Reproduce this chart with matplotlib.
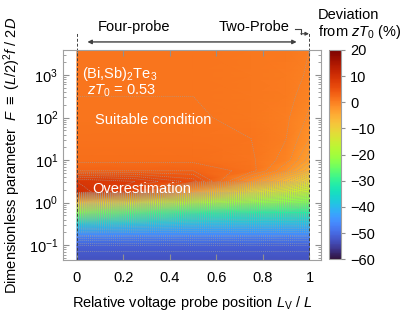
import numpy as np
import matplotlib
matplotlib.use('Agg')
import matplotlib.pyplot as plt
import matplotlib.transforms as mtransforms

plt.rcParams['font.family'] = ['Liberation Sans', 'DejaVu Sans']
plt.rcParams['mathtext.fontset'] = 'custom'
plt.rcParams['mathtext.rm'] = 'Liberation Sans'
plt.rcParams['mathtext.it'] = 'Liberation Sans:italic'
plt.rcParams['font.size'] = 10.5

# relative probe position L_V / L
x_pos = [0.0, 0.25, 0.5, 0.75, 0.9, 1.0]
# log10 of dimensionless parameter F
log_F = [-1.35, -1.0, -0.75, -0.5, -0.25, 0.0, 0.25, 0.5, 0.75,
         1.0, 1.5, 2.0, 2.5, 3.0, 3.6]
# deviation from zT0 (%), one list per probe position (bottom -> top)
dev_x000 = [-53, -51, -46, -38, -24, -8, 10, 9, 3, 1.6, 1.3, 1.1, 1, 1, 1]
dev_x025 = [-53, -51, -46, -39, -28, -13, 6, 8, 3, 1.6, 1.3, 1.1, 1, 1, 1]
dev_x050 = [-53, -51, -46, -40, -31, -19, -4, 5.5, 3, 1.6, 1.3, 1.1, 1, 1, 1]
dev_x075 = [-53, -51, -46, -40, -32, -22, -12, -2, 1.5, 1.2, 1, 0.8, 0.8, 0.8, 0.8]
dev_x090 = [-53, -51, -46, -40, -32, -23, -15, -7, -2, -0.5, 0, 0.2, 0.4, 0.6, 0.7]
dev_x100 = [-53, -51, -46, -40, -32, -24, -17, -11, -6, -3.5, -2, -1.2, -0.6, -0.2, 0]

cbar_ticks = [-60, -50, -40, -30, -20, -10, 0, 10, 20]
x_ticks = [0, 0.2, 0.4, 0.6, 0.8, 1.0]
x_labels = ['0', '0.2', '0.4', '0.6', '0.8', '1']

Z = np.array([dev_x000, dev_x025, dev_x050, dev_x075, dev_x090, dev_x100]).T
X, Y = np.meshgrid(x_pos, 10.0 ** np.array(log_F))

fig = plt.figure(figsize=(4.09, 3.18), dpi=100)
ax = fig.add_axes([0.154, 0.182, 0.631, 0.661])
cax = fig.add_axes([0.804, 0.185, 0.030, 0.658])

pcm = ax.pcolormesh(X, Y, Z, shading='gouraud', cmap='turbo', vmin=-60, vmax=20)
ax.contour(X, Y, Z, levels=np.arange(-60, 21, 1), colors='#a0a0a0',
           linewidths=0.5, linestyles=[(0, (1.5, 1.5))], alpha=0.8)

ax.set_yscale('log')
ax.set_xlim(-0.06, 1.05)
ax.set_ylim(10 ** -1.35, 10 ** 3.59)
ax.set_xticks(x_ticks)
ax.set_xticklabels(x_labels)
ax.tick_params(which='both', direction='in', top=True, right=True,
               color='#909090')
ax.tick_params(which='major', length=4)
ax.tick_params(which='minor', length=2)
ax.tick_params(axis='x', pad=8)
for s in ax.spines.values():
    s.set_color('#a0a0a0')

ax.set_xlabel(r'Relative voltage probe position $L_\mathrm{V}$ / $L$', labelpad=6)
ax.set_ylabel(r'Dimensionless parameter  $F$ $\equiv$ $(L/2)^2f$ / $2D$',
              labelpad=4)

# probe boundaries
trans = mtransforms.blended_transform_factory(ax.transData, ax.transAxes)
for xv in [0, 1]:
    ax.plot([xv, xv], [0, 1.086], transform=trans, color='#404040',
            lw=0.7, ls=(0, (3, 2)), clip_on=False)

ax.annotate('', xy=(0.045, 1.038), xytext=(0.945, 1.038),
            xycoords=trans, textcoords=trans,
            arrowprops=dict(arrowstyle='<|-|>', color='#404040', lw=1.0,
                            mutation_scale=6, shrinkA=0, shrinkB=0))
ax.text(0.245, 1.11, 'Four-probe', transform=trans, ha='center', va='center')
ax.text(0.915, 1.11, 'Two-Probe', transform=trans, ha='right', va='center')
ax.plot([0.94, 0.965, 0.965], [1.10, 1.10, 1.077], transform=trans,
        color='#404040', lw=0.8, clip_on=False)
ax.annotate('', xy=(0.998, 1.077), xytext=(0.963, 1.077),
            xycoords=trans, textcoords=trans,
            arrowprops=dict(arrowstyle='-|>', color='#404040', lw=0.8,
                            mutation_scale=5, shrinkA=0, shrinkB=0))

ax.text(0.02, 1060, r'(Bi,Sb)$_2$Te$_3$', color='white', ha='left', va='center')
ax.text(0.043, 420, r'$zT_0$ = 0.53', color='white', ha='left', va='center')
ax.text(0.078, 89, 'Suitable condition', color='white', ha='left', va='center')
ax.text(0.065, 2.1, 'Overestimation', color='white', ha='left', va='center')

cb = fig.colorbar(pcm, cax=cax, ticks=cbar_ticks)
cb.outline.set_edgecolor('#a0a0a0')
cb.ax.tick_params(length=3, color='#909090')
fig.text(0.778, 0.952, 'Deviation', ha='left', va='center')
fig.text(0.778, 0.898, r'from $zT_0$ (%)', ha='left', va='center')

fig.savefig('out.png', dpi=100)
